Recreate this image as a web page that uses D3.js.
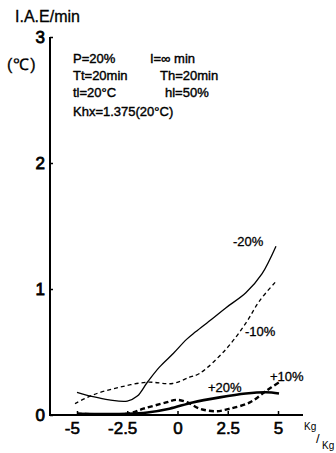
<!DOCTYPE html>
<html>
<head>
<meta charset="utf-8">
<script src="https://cdn.jsdelivr.net/npm/d3@7"></script>
<style>
  body { margin: 0; background: #fff; }
  svg { display: block; }
  text { font-family: "Liberation Sans", Arial, sans-serif; fill: #000; }
</style>
</head>
<body>
<div id="chart"></div>
<script>
// tick values
const xTicks = [-5, -2.5, 0, 2.5, 5]
const yTicks = [0, 1, 2, 3]

// series (x = Kg/Kg, y = I.A.E/min in °C)
const minus20X = [-5, -4.2, -3.4, -2.5, -2, -1.5, -0.9, -0.2, 0.45, 0.9, 1.7, 2.4, 3.4, 4.2, 4.9]
const minus20Y = [0.18, 0.145, 0.12, 0.11, 0.15, 0.26, 0.38, 0.49, 0.6, 0.66, 0.76, 0.85, 0.97, 1.12, 1.34]

const minus10X = [-5.1, -4.2, -2.9, -1.5, -0.25, 0.6, 1.1, 2.4, 3.4, 4.1, 4.9]
const minus10Y = [0.09, 0.16, 0.22, 0.26, 0.25, 0.3, 0.33, 0.52, 0.73, 0.91, 1.06]

const plus20X = [-5, -2.5, -1.5, -0.4, 0.75, 2.1, 3.4, 4.4, 5.05]
const plus20Y = [0.01, 0.01, 0.02, 0.05, 0.1, 0.14, 0.17, 0.18, 0.17]

const plus10X = [-5, -2.5, -1.7, -0.56, -0.07, 0.5, 1.1, 1.9, 2.6, 3.6, 4.4, 5.05]
const plus10Y = [0.01, 0.01, 0.05, 0.1, 0.12, 0.1, 0.05, 0.03, 0.05, 0.1, 0.19, 0.26]

const notes = ["P=20%", "I=∞ min", "Tt=20min", "Th=20min", "tl=20°C", "hl=50%", "Khx=1.375(20°C)"]

const width = 336, height = 453

const svg = d3.select("#chart").append("svg")
    .attr("width", width)
    .attr("height", height)

const x = d3.scaleLinear().domain([-5, 5]).range([77, 278])
const y = d3.scaleLinear().domain([0, 3]).range([415, 37])

// axes
const xAxis = d3.axisBottom(x)
    .tickValues(xTicks)
    .tickSize(-4)
    .tickPadding(5)
    .tickFormat(d => String(d))

const xg = svg.append("g")
    .attr("transform", `translate(0, ${y(0)})`)
    .call(xAxis)
xg.select(".domain").remove()
xg.selectAll("line").attr("stroke-width", 1.5)
xg.selectAll("text")
    .attr("font-size", "17px")
    .attr("font-family", "DejaVu Sans, sans-serif")
    .attr("stroke", "#000").attr("stroke-width", 0.6)
    .attr("dx", d => d < 0 ? "-0.3em" : 0)
    .attr("dy", "0.85em")

const yAxis = d3.axisLeft(y)
    .tickValues(yTicks)
    .tickSize(-3)
    .tickPadding(5)
    .tickFormat(d => String(d))

const yg = svg.append("g")
    .attr("transform", `translate(50, 0)`)
    .call(yAxis)
yg.select(".domain").remove()
yg.selectAll("line").attr("stroke-width", 1.5)
yg.selectAll("text")
    .attr("font-size", "17px")
    .attr("font-family", "DejaVu Sans, sans-serif")
    .attr("stroke", "#000").attr("stroke-width", 0.8)
    .attr("dy", "0.35em")

// axis lines
svg.append("line")
    .attr("x1", 50).attr("x2", 50)
    .attr("y1", y(0)).attr("y2", y(3))
    .attr("stroke", "#000").attr("stroke-width", 2)
svg.append("line")
    .attr("x1", 49).attr("x2", 303)
    .attr("y1", y(0)).attr("y2", y(0))
    .attr("stroke", "#000").attr("stroke-width", 2)

// curves
const line = d3.line()
    .x(d => x(d[0]))
    .y(d => y(d[1]))
    .curve(d3.curveCatmullRom.alpha(0.5))

const series = [
    { xs: minus20X, ys: minus20Y, w: 1.3, dash: null },
    { xs: minus10X, ys: minus10Y, w: 1.3, dash: "4,3" },
    { xs: plus20X, ys: plus20Y, w: 2.6, dash: null },
    { xs: plus10X, ys: plus10Y, w: 2.4, dash: "5,3" }
]

series.forEach(s => {
    svg.append("path")
        .datum(d3.zip(s.xs, s.ys))
        .attr("fill", "none")
        .attr("stroke", "#000")
        .attr("stroke-width", s.w)
        .attr("stroke-dasharray", s.dash)
        .attr("d", line)
})

// curve labels
const curveLabels = [
    { t: "-20%", x: 233, y: 246 },
    { t: "-10%", x: 245, y: 336 },
    { t: "+10%", x: 270, y: 381 },
    { t: "+20%", x: 208, y: 392 }
]
svg.selectAll(".clabel")
    .data(curveLabels)
    .enter().append("text")
    .attr("class", "clabel")
    .attr("x", d => d.x)
    .attr("y", d => d.y)
    .attr("font-size", "13px")
    .attr("stroke", "#000").attr("stroke-width", 0.3)
    .text(d => d.t)

// titles
svg.append("text")
    .attr("x", 15).attr("y", 22)
    .attr("font-size", "16px")
    .attr("stroke", "#000").attr("stroke-width", 0.3)
    .text("I.A.E/min")
svg.append("text")
    .attr("x", 7).attr("y", 70)
    .attr("font-size", "16px")
    .attr("letter-spacing", "1px")
    .attr("stroke", "#000").attr("stroke-width", 0.3)
    .text("(℃)")

// parameter block
const notePos = [
    [73, 63], [150, 63],
    [73, 80], [160, 80],
    [73, 97], [165, 97],
    [73, 116]
]
svg.selectAll(".note")
    .data(notes)
    .enter().append("text")
    .attr("class", "note")
    .attr("x", (d, i) => notePos[i][0])
    .attr("y", (d, i) => notePos[i][1])
    .attr("font-size", "13px")
    .attr("stroke", "#000").attr("stroke-width", 0.4)
    .text(d => d)

// x axis unit
svg.append("text").attr("x", 304).attr("y", 430).attr("font-size", "10px").text("Kg")
svg.append("text").attr("x", 316).attr("y", 443).attr("font-size", "13px").text("/")
svg.append("text").attr("x", 322).attr("y", 449).attr("font-size", "10px").text("Kg")
</script>
</body>
</html>
